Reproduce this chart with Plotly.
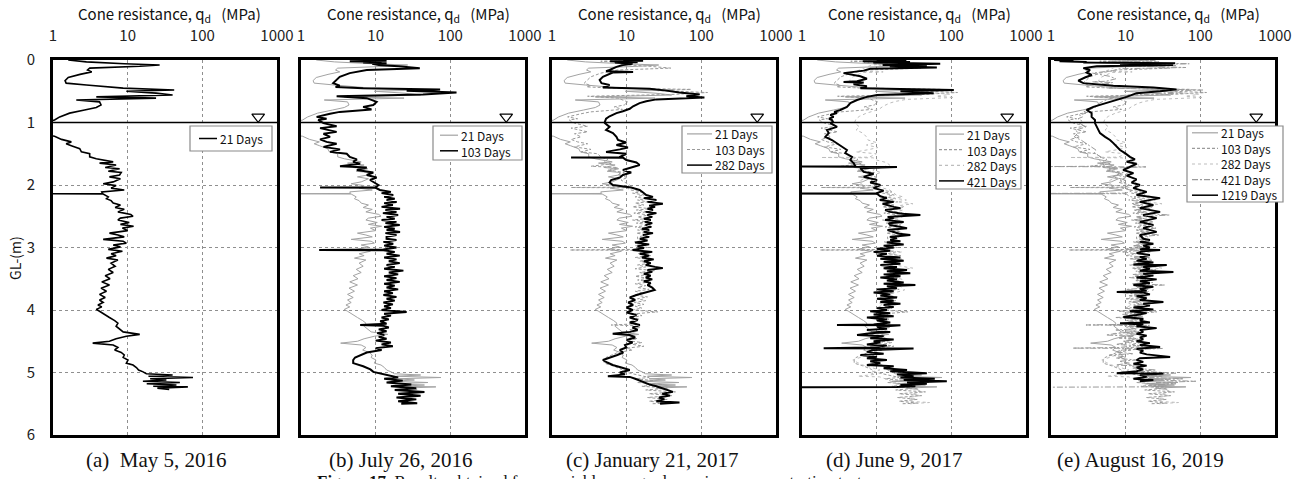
import plotly.graph_objects as go

# ---------------- data (depth m, cone resistance MPa) ----------------
DAYS_21 = [(0.00,1.6),(0.03,2.8),(0.06,9.0),(0.08,26.8),(0.10,14.5),(0.13,3.1),(0.16,2.9),(0.19,3.3),(0.23,2.3),(0.28,1.6),
 (0.33,1.45),(0.37,1.5),(0.40,2.8),(0.45,8.7),(0.48,42.0),(0.50,9.6),(0.53,24.0),(0.56,40.0),(0.59,3.8),(0.61,24.0),
 (0.64,2.05),(0.67,4.2),(0.72,4.4),(0.76,3.8),(0.80,2.65),(0.85,1.67),(0.91,1.23),(0.96,1.05),(1.00,0.8),(1.20,0.8),
 (1.22,1.05),(1.27,1.3),(1.31,1.76),(1.34,1.5),(1.37,1.76),(1.42,2.28),(1.47,2.4),(1.50,3.1),(1.55,3.1),(1.58,3.8),
 (1.63,6.4),(1.65,4.2),(1.68,7.0),(1.72,5.0),(1.74,7.8),(1.78,5.5),(1.80,8.2),(1.84,7.8),(1.87,5.7),(1.90,8.0),
 (1.95,6.4),(1.98,4.7),(2.01,7.0),(2.05,6.0),(2.08,9.0),(2.11,4.5),(2.135,4.6),(2.14,0.8),(2.145,4.7),(2.19,5.5),
 (2.22,5.2),(2.25,6.0),(2.29,6.4),(2.32,8.0),(2.36,6.8),(2.39,9.0),(2.43,7.4),(2.47,11.0),(2.50,11.8),(2.53,8.0),
 (2.56,7.4),(2.60,10.5),(2.63,8.0),(2.66,12.0),(2.69,8.5),(2.73,10.0),(2.77,5.7),(2.80,7.4),(2.83,9.0),(2.87,4.7),
 (2.90,8.7),(2.93,9.6),(2.96,6.4),(2.99,8.0),(3.03,5.5),(3.06,8.5),(3.10,6.0),(3.13,7.0),(3.17,5.2),(3.20,7.4),
 (3.25,6.0),(3.30,6.8),(3.35,5.5),(3.40,6.4),(3.45,5.0),(3.50,5.8),(3.55,4.5),(3.60,5.7),(3.65,4.4),(3.70,5.2),
 (3.75,4.2),(3.80,5.0),(3.84,4.2),(3.88,4.7),(3.92,4.0),(3.95,4.5),(3.99,3.8),(4.02,4.2),(4.07,5.0),(4.12,5.7),
 (4.17,6.7),(4.21,7.4),(4.26,7.0),(4.30,7.8),(4.35,8.7),(4.39,14.5),(4.42,9.6),(4.46,7.0),(4.50,5.7),(4.53,3.4),
 (4.56,6.4),(4.60,7.4),(4.64,6.7),(4.68,8.2),(4.72,9.0),(4.76,8.7),(4.80,10.1),(4.85,9.6),(4.88,11.8),(4.92,13.1),
 (4.96,14.0),(4.99,16.1),(5.02,17.8),(5.04,40.0),(5.06,19.0),(5.08,75.0),(5.10,20.0),(5.12,33.0),(5.14,16.0),(5.16,50.0),
 (5.18,18.0),(5.20,45.0),(5.22,22.0),(5.23,64.0),(5.25,25.0),(5.27,36.0)]

DAYS_103 = [(0.00,7.6),(0.01,14.0),(0.02,4.5),(0.03,12.0),(0.04,6.8),(0.05,14.0),(0.06,9.0),(0.08,11.0),(0.10,20.0),(0.13,39.0),
 (0.16,7.6),(0.21,4.5),(0.27,3.3),(0.32,3.0),(0.37,2.7),(0.41,3.3),(0.43,2.9),(0.45,6.8),(0.47,73.0),(0.49,26.0),
 (0.52,121.0),(0.55,43.0),(0.58,3.0),(0.61,7.6),(0.67,10.3),(0.72,9.3),(0.75,6.8),(0.79,8.8),(0.83,3.3),(0.86,2.45),
 (0.89,1.9),(0.91,1.62),(0.94,2.2),(0.96,1.7),(0.98,1.8),(1.01,2.0),(1.06,3.0),(1.09,1.8),(1.15,3.0),(1.18,2.0),
 (1.23,2.45),(1.27,1.8),(1.31,2.2),(1.34,3.0),(1.39,2.0),(1.43,3.33),(1.47,2.45),(1.50,4.1),(1.55,4.5),(1.59,5.6),
 (1.63,5.0),(1.66,6.2),(1.70,3.33),(1.72,7.6),(1.76,5.6),(1.80,9.3),(1.84,7.6),(1.88,10.3),(1.92,8.4),(1.96,9.8),
 (2.00,10.9),(2.035,10.0),(2.04,1.8),(2.045,10.0),(2.08,11.4),(2.11,16.0),(2.13,12.0),(2.16,17.2),(2.19,13.0),(2.22,18.0),
 (2.24,14.0),(2.27,19.1),(2.29,13.0),(2.32,17.0),(2.35,12.0),(2.38,21.2),(2.40,13.5),(2.43,19.0),(2.45,12.5),(2.48,20.0),
 (2.51,14.0),(2.54,18.0),(2.56,12.0),(2.59,19.0),(2.61,13.5),(2.64,21.0),(2.67,13.0),(2.70,18.0),(2.72,14.0),(2.75,21.2),
 (2.77,13.5),(2.80,19.0),(2.83,14.0),(2.86,14.0),(2.88,19.0),(2.91,12.7),(2.94,17.2),(2.97,13.0),(3.00,19.0),(3.03,12.7),
 (3.04,1.75),(3.045,12.7),(3.07,18.0),(3.10,14.0),(3.13,21.0),(3.16,13.0),(3.19,19.0),(3.22,15.0),(3.25,21.0),(3.28,14.0),
 (3.31,18.0),(3.34,13.0),(3.37,23.5),(3.40,15.0),(3.43,20.0),(3.46,13.0),(3.49,19.0),(3.52,14.0),(3.55,21.0),(3.58,13.0),
 (3.61,18.0),(3.64,14.0),(3.67,20.0),(3.70,13.0),(3.73,17.0),(3.76,12.7),(3.79,19.0),(3.82,14.0),(3.85,18.0),(3.88,12.7),
 (3.91,17.0),(3.94,13.0),(3.97,16.0),(4.00,12.0),(4.03,26.0),(4.06,13.0),(4.09,16.0),(4.12,12.0),(4.15,15.0),(4.18,11.5),
 (4.22,14.0),(4.24,6.2),(4.25,12.5),(4.28,15.0),(4.31,11.0),(4.34,14.0),(4.37,10.5),(4.40,13.0),(4.43,11.0),(4.46,14.0),
 (4.49,10.0),(4.52,16.0),(4.55,12.0),(4.58,17.0),(4.61,10.0),(4.64,12.0),(4.68,7.6),(4.72,6.2),(4.76,5.3),(4.80,5.0),
 (4.85,5.0),(4.90,6.8),(4.95,8.5),(4.99,9.3),(5.02,12.0),(5.05,14.0),(5.08,20.0),(5.10,13.0),(5.13,23.0),(5.16,14.0),
 (5.19,30.0),(5.22,16.0),(5.25,35.0),(5.28,18.0),(5.31,45.0),(5.34,20.0),(5.37,40.0),(5.40,19.0),(5.43,35.0),(5.46,20.0),
 (5.49,36.0),(5.50,22.0)]

DAYS_282 = [(0.00,9.0),(0.01,16.6),(0.02,6.0),(0.03,14.0),(0.04,7.0),(0.06,12.0),(0.08,8.9),(0.11,7.3),(0.16,5.9),(0.18,5.3),
 (0.19,12.2),(0.20,6.5),(0.27,4.8),(0.32,4.35),(0.37,4.6),(0.40,5.9),(0.44,4.8),(0.46,20.3),(0.49,34.0),(0.52,51.0),
 (0.55,95.0),(0.58,63.0),(0.60,110.0),(0.63,25.0),(0.66,18.3),(0.69,14.9),(0.74,12.2),(0.78,11.0),(0.82,8.9),(0.85,7.3),
 (0.90,5.9),(0.94,5.3),(0.99,5.1),(1.01,5.1),(1.07,5.9),(1.12,5.3),(1.17,6.55),(1.23,7.3),(1.28,7.65),(1.32,9.9),
 (1.36,7.3),(1.40,10.4),(1.43,8.1),(1.47,5.3),(1.50,9.9),(1.54,8.1),(1.555,8.0),(1.56,1.8),(1.565,9.0),(1.60,9.9),
 (1.64,13.5),(1.68,14.9),(1.72,11.0),(1.76,8.9),(1.80,11.5),(1.84,8.9),(1.88,8.1),(1.92,6.2),(1.96,5.9),(2.00,6.55),
 (2.04,11.5),(2.08,14.9),(2.12,16.6),(2.16,18.3),(2.19,22.5),(2.21,17.0),(2.24,25.0),(2.27,19.0),(2.30,30.5),(2.33,20.0),
 (2.35,24.0),(2.38,19.0),(2.40,22.5),(2.43,18.0),(2.45,25.0),(2.48,19.0),(2.51,22.0),(2.54,17.0),(2.56,21.0),(2.59,17.5),
 (2.61,22.0),(2.64,18.0),(2.67,21.4),(2.70,16.0),(2.72,20.0),(2.75,17.0),(2.77,22.5),(2.80,16.6),(2.83,20.0),(2.86,15.0),
 (2.89,19.0),(2.92,13.0),(2.95,20.0),(2.98,14.0),(3.01,17.0),(3.04,12.0),(3.07,22.0),(3.10,15.0),(3.13,20.0),(3.16,16.0),
 (3.19,23.0),(3.22,17.0),(3.25,21.0),(3.28,18.0),(3.31,24.0),(3.33,30.5),(3.36,19.0),(3.39,22.0),(3.42,17.0),(3.45,21.0),
 (3.48,18.0),(3.51,22.0),(3.54,17.0),(3.57,21.0),(3.60,19.0),(3.64,22.0),(3.68,23.7),(3.72,17.0),(3.76,13.5),(3.80,11.0),
 (3.84,13.0),(3.88,10.5),(3.92,12.2),(3.96,10.0),(4.00,12.0),(4.04,10.0),(4.08,13.5),(4.12,11.0),(4.16,14.0),(4.20,11.0),
 (4.24,15.0),(4.28,12.0),(4.32,14.0),(4.35,11.0),(4.38,6.5),(4.40,11.0),(4.44,13.0),(4.48,10.0),(4.52,12.0),(4.56,9.5),
 (4.60,9.9),(4.64,8.1),(4.68,9.0),(4.72,7.5),(4.76,6.0),(4.80,4.8),(4.84,5.5),(4.88,6.5),(4.92,8.5),(4.96,11.0),
 (5.00,8.1),(5.03,9.5),(5.06,5.6),(5.07,11.0),(5.10,13.0),(5.13,15.0),(5.16,17.0),(5.19,20.0),(5.22,25.0),(5.25,30.0),
 (5.28,35.0),(5.31,41.6),(5.34,30.0),(5.37,38.0),(5.40,27.0),(5.43,32.0),(5.46,25.0),(5.48,51.0),(5.50,28.0)]

DAYS_421 = [(0.00,10.0),(0.01,25.0),(0.02,6.5),(0.03,28.0),(0.04,9.0),(0.05,20.0),(0.06,71.0),(0.08,12.0),(0.09,47.0),(0.10,15.0),
 (0.12,64.0),(0.14,8.2),(0.17,6.7),(0.21,3.6),(0.26,6.05),(0.30,7.4),(0.34,5.46),(0.35,3.6),(0.36,6.7),(0.39,4.9),
 (0.42,7.4),(0.45,6.05),(0.48,108.0),(0.50,20.8),(0.53,58.0),(0.56,10.1),(0.59,7.4),(0.64,5.46),(0.69,4.44),(0.75,4.0),
 (0.80,3.26),(0.83,2.7),(0.85,2.94),(0.88,2.4),(0.91,2.65),(0.94,2.3),(0.96,2.52),(0.99,2.6),(1.01,2.4),(1.07,2.94),
 (1.12,2.16),(1.17,2.28),(1.23,2.05),(1.28,2.52),(1.33,2.94),(1.39,3.43),(1.44,4.0),(1.49,3.8),(1.55,4.67),(1.60,4.44),
 (1.65,4.92),(1.70,5.2),(1.705,0.9),(1.71,18.7),(1.73,6.05),(1.79,6.7),(1.82,9.1),(1.87,6.7),(1.92,10.1),(1.96,8.2),
 (2.00,11.2),(2.05,9.1),(2.09,12.4),(2.13,10.0),(2.135,0.9),(2.14,10.1),(2.18,11.2),(2.21,13.7),(2.24,11.0),(2.27,16.9),
 (2.30,12.0),(2.32,13.7),(2.35,17.0),(2.37,20.8),(2.40,13.0),(2.43,15.2),(2.46,22.0),(2.48,38.5),(2.51,14.0),(2.53,16.9),
 (2.56,13.0),(2.59,23.0),(2.61,14.5),(2.64,15.2),(2.67,21.0),(2.69,25.5),(2.72,14.0),(2.75,16.9),(2.78,20.0),(2.80,28.2),
 (2.83,15.0),(2.85,18.7),(2.88,15.2),(2.90,20.8),(2.92,13.7),(2.95,23.0),(2.97,12.4),(3.00,16.9),(3.02,10.1),(3.05,15.2),
 (3.07,9.1),(3.10,13.7),(3.13,10.1),(3.16,20.8),(3.18,11.2),(3.21,23.0),(3.23,12.4),(3.26,20.8),(3.28,11.2),(3.31,18.7),
 (3.33,12.4),(3.36,25.5),(3.38,13.7),(3.41,28.2),(3.43,12.4),(3.46,20.8),(3.48,11.2),(3.51,18.7),(3.53,13.7),(3.56,23.0),
 (3.58,12.4),(3.60,33.0),(3.62,13.7),(3.65,18.7),(3.67,10.1),(3.70,16.9),(3.72,9.1),(3.75,15.2),(3.77,11.2),(3.80,18.7),
 (3.82,10.1),(3.85,16.9),(3.87,11.2),(3.90,20.8),(3.92,12.4),(3.95,16.9),(3.97,10.1),(4.00,13.7),(4.02,8.2),(4.05,15.2),
 (4.07,9.1),(4.10,16.9),(4.12,7.4),(4.15,13.7),(4.17,10.1),(4.20,15.2),(4.23,9.1),(4.24,2.94),(4.245,20.8),(4.27,10.1),
 (4.30,13.7),(4.32,7.4),(4.35,15.2),(4.37,8.2),(4.40,5.46),(4.42,12.4),(4.45,8.2),(4.47,16.9),(4.50,9.1),(4.52,11.2),
 (4.55,7.4),(4.57,13.7),(4.60,8.2),(4.61,1.95),(4.615,31.2),(4.64,9.1),(4.67,7.4),(4.70,12.4),(4.72,6.05),(4.75,10.1),
 (4.77,7.4),(4.80,13.7),(4.82,8.2),(4.85,11.2),(4.88,7.4),(4.90,16.9),(4.93,12.4),(4.96,25.5),(4.98,15.2),(5.01,47.0),
 (5.03,18.7),(5.06,31.2),(5.08,20.8),(5.10,60.0),(5.12,23.0),(5.14,87.0),(5.16,25.5),(5.18,47.0),(5.20,20.8),(5.22,33.0),
 (5.23,18.7),(5.235,0.9)]

DAYS_1219 = [(0.00,1.1),(0.01,2.0),(0.02,1.3),(0.03,3.0),(0.04,2.71),(0.05,46.0),(0.06,8.4),(0.08,43.0),(0.10,4.1),(0.13,2.71),
 (0.16,3.33),(0.20,3.0),(0.24,3.5),(0.28,2.85),(0.33,2.32),(0.37,2.71),(0.41,6.84),(0.44,23.5),(0.47,48.0),(0.50,28.9),
 (0.53,14.0),(0.59,10.3),(0.64,7.6),(0.69,5.57),(0.75,3.69),(0.80,3.0),(0.85,3.5),(0.91,3.5),(0.96,3.88),(1.01,3.88),
 (1.07,4.09),(1.12,4.3),(1.17,4.53),(1.23,5.3),(1.28,6.17),(1.33,6.84),(1.39,7.6),(1.44,8.4),(1.49,9.8),(1.55,11.4),
 (1.59,13.3),(1.63,10.3),(1.66,14.0),(1.71,11.4),(1.76,9.3),(1.81,12.7),(1.85,10.3),(1.91,14.0),(1.96,12.0),(2.00,15.5),
 (2.05,12.7),(2.11,19.1),(2.16,14.0),(2.21,28.9),(2.27,15.5),(2.32,23.5),(2.37,15.5),(2.43,28.9),(2.48,17.2),(2.53,26.0),
 (2.59,15.5),(2.64,23.5),(2.69,17.2),(2.75,26.0),(2.80,15.5),(2.86,17.2),(2.88,21.1),(2.91,15.5),(2.94,23.5),(2.97,17.2),
 (3.00,21.1),(3.03,15.5),(3.04,28.9),(3.06,17.2),(3.09,14.0),(3.12,21.1),(3.15,15.5),(3.18,19.1),(3.21,14.0),(3.24,23.5),
 (3.27,12.7),(3.28,35.5),(3.31,17.2),(3.34,21.1),(3.37,15.5),(3.39,43.6),(3.42,17.2),(3.45,23.5),(3.48,14.0),(3.51,26.0),
 (3.54,15.5),(3.57,21.1),(3.60,12.7),(3.63,23.5),(3.66,15.5),(3.69,19.1),(3.71,7.6),(3.72,17.2),(3.75,21.1),(3.78,14.0),
 (3.81,19.1),(3.84,15.5),(3.87,32.0),(3.90,17.2),(3.93,21.1),(3.96,12.7),(3.99,23.5),(4.02,11.4),(4.05,19.1),(4.08,14.0),
 (4.11,9.3),(4.14,17.2),(4.17,15.5),(4.20,21.1),(4.21,8.4),(4.23,17.2),(4.26,14.0),(4.29,26.0),(4.32,15.5),(4.35,17.2),
 (4.38,14.0),(4.41,19.1),(4.44,15.5),(4.47,17.2),(4.50,14.0),(4.53,21.1),(4.56,15.5),(4.59,28.9),(4.62,14.0),(4.65,17.2),
 (4.68,15.5),(4.71,19.1),(4.75,39.4),(4.77,15.5),(4.80,14.0),(4.83,17.2),(4.86,12.7),(4.89,19.1),(4.92,14.0),(4.95,17.2),
 (4.98,14.0),(5.01,7.6),(5.015,32.0),(5.04,15.5),(5.07,19.1),(5.10,12.7),(5.12,23.5),(5.14,15.5)]

SERIES = {"21 Days": DAYS_21, "103 Days": DAYS_103, "282 Days": DAYS_282,
          "421 Days": DAYS_421, "1219 Days": DAYS_1219}

PANEL_CAPTIONS = ["(a)\u00a0\u00a0May 5, 2016", "(b) July 26, 2016", "(c) January 21, 2017",
                  "(d) June 9, 2017", "(e) August 16, 2019"]
PANEL_SERIES = [
    [("21 Days", "black")],
    [("21 Days", "g21"), ("103 Days", "black")],
    [("21 Days", "g21"), ("103 Days", "g103"), ("282 Days", "black")],
    [("21 Days", "g21"), ("103 Days", "g103"), ("282 Days", "g282"), ("421 Days", "black")],
    [("21 Days", "g21"), ("103 Days", "g103"), ("282 Days", "g282"), ("421 Days", "g421"), ("1219 Days", "black")],
]
X_TICKS = [1, 10, 100, 1000]
X_TICKTEXT = ["1", "10", "100", "1000"]
Y_TICKS = [0, 1, 2, 3, 4, 5, 6]
WT_Q, WT_DEPTH = 560, 0.91
GWL_DEPTH = 1.0

# ---------------- layout geometry / styles ----------------
W, H = 1308, 479
def PX(x): return x / W
def PY(y): return 1 - y / H

LEFTS = [53, 301, 552, 802, 1051]
PW = 224
TOP, BOT = 60, 435
FONT = "Noto Sans CJK JP"
SERIF = "Liberation Serif"
LEG_FONT = 12

STYLES = {
    "black": dict(color="black", width=2),
    "g21": dict(color="#a3a3a3", width=1),
    "g103": dict(color="#9a9a9a", width=1, dash="3px,2px"),
    "g282": dict(color="#bdbdbd", width=1, dash="dot"),
    "g421": dict(color="#9a9a9a", width=1, dash="6px,2px,2px,2px"),
}

LEGENDS = [  # box x0,y0,x1,y1 ; first row y ; sample x0,x1 ; text x
    dict(box=(190, 126, 272, 151), sx=(199, 217), tx=218),
    dict(box=(433, 126, 522, 160), sx=(440, 458), tx=459),
    dict(box=(682, 126, 772, 173), sx=(687, 712), tx=713),
    dict(box=(936, 126, 1021, 189), sx=(939, 964), tx=965),
    dict(box=(1187, 126, 1283, 202), sx=(1192, 1218), tx=1219),
]
ROW_H = LEG_FONT * 1.3
CAPTION_X = [156, 401, 652, 894, 1140]

fig = go.Figure()
shapes, annotations = [], []
layout = dict(width=W, height=H, margin=dict(l=0, r=0, t=0, b=0, autoexpand=False), showlegend=False,
              paper_bgcolor="white", plot_bgcolor="white")


def note(x, y, text, size, family=FONT, xanchor="center", yanchor="middle", **kw):
    d = dict(x=PX(x), y=PY(y), xref="paper", yref="paper", text=text, showarrow=False,
             xanchor=xanchor, yanchor=yanchor, font=dict(family=family, size=size, color="#111"))
    d.update(kw)
    annotations.append(d)


for i in range(5):
    n = i + 1
    xs = "x" if n == 1 else f"x{n}"
    ys = "y" if n == 1 else f"y{n}"
    xa = "xaxis" if n == 1 else f"xaxis{n}"
    ya = "yaxis" if n == 1 else f"yaxis{n}"
    layout[xa] = dict(type="log", range=[0, 3], domain=[PX(LEFTS[i]), PX(LEFTS[i] + PW)], anchor=ys,
                      side="top", tickvals=X_TICKS, ticktext=X_TICKTEXT, ticks="", automargin=False,
                      showgrid=True, gridcolor="#8f8f8f", griddash="dot", gridwidth=1,
                      showline=True, linecolor="black", linewidth=3, mirror=True, zeroline=False,
                      tickfont=dict(family=FONT, size=15, color="#222"), ticklabelstandoff=10)
    layout[ya] = dict(range=[6, 0], domain=[PY(BOT), PY(TOP)], anchor=xs, automargin=False,
                      tickvals=Y_TICKS, ticks="", showticklabels=(n == 1),
                      showgrid=True, gridcolor="#8f8f8f", griddash="dot", gridwidth=1,
                      showline=True, linecolor="black", linewidth=3, mirror=True, zeroline=False,
                      tickfont=dict(family=FONT, size=15, color="#222"), ticklabelstandoff=12)

    for name, sty in PANEL_SERIES[i]:
        pts = SERIES[name]
        line = dict(STYLES[sty])
        if n == 1:
            line["width"] = 1.6
        fig.add_trace(go.Scatter(x=[p[1] for p in pts], y=[p[0] for p in pts], mode="lines",
                                 line=line, name=name, xaxis=xs, yaxis=ys, hoverinfo="skip"))
    # water table marker
    fig.add_trace(go.Scatter(x=[WT_Q], y=[WT_DEPTH], mode="markers", xaxis=xs, yaxis=ys,
                             marker=dict(symbol="triangle-down-open", size=11, color="black",
                                         line=dict(width=1.2, color="black")), hoverinfo="skip"))
    shapes.append(dict(type="line", xref=f"{xs} domain", yref=ys, x0=0, x1=1,
                       y0=GWL_DEPTH, y1=GWL_DEPTH, line=dict(color="black", width=1.6)))

    note(LEFTS[i] + PW / 2 + 5, 15, "Cone resistance, q<sub>d</sub>\u00a0\u00a0\u00a0(MPa)", 15)
    note(CAPTION_X[i], 460, PANEL_CAPTIONS[i], 21, family=SERIF)

    # manual legend: box, line samples, one multi-line label block
    lg = LEGENDS[i]
    bx0, by0, bx1, by1 = lg["box"]
    shapes.append(dict(type="rect", xref="paper", yref="paper", x0=PX(bx0), x1=PX(bx1),
                       y0=PY(by1), y1=PY(by0), line=dict(color="#8a8a8a", width=1.2),
                       fillcolor="white", layer="above"))
    nrows = len(PANEL_SERIES[i])
    ymid = (by0 + by1) / 2
    first = ymid - (nrows - 1) * ROW_H / 2
    for k, (name, sty) in enumerate(PANEL_SERIES[i]):
        ry = first + k * ROW_H
        line = dict(STYLES[sty])
        line["width"] = 1.5 if sty == "black" else 1.2
        shapes.append(dict(type="line", xref="paper", yref="paper", x0=PX(lg["sx"][0]), x1=PX(lg["sx"][1]),
                           y0=PY(ry), y1=PY(ry), line=line, layer="above"))
    note(lg["tx"], ymid, "<br>".join(nm for nm, _ in PANEL_SERIES[i]), LEG_FONT,
         xanchor="left", align="left")

note(15, 258, "GL-(m)", 14, textangle=-90)
note(315, 470, "<b>Figure 17.</b> Results obtained from variable energy dynamic cone penetration test",
     17, family=SERIF, xanchor="left", yanchor="top")

layout["shapes"] = shapes
layout["annotations"] = annotations
fig.update_layout(**layout)
fig.write_html("out.html")
